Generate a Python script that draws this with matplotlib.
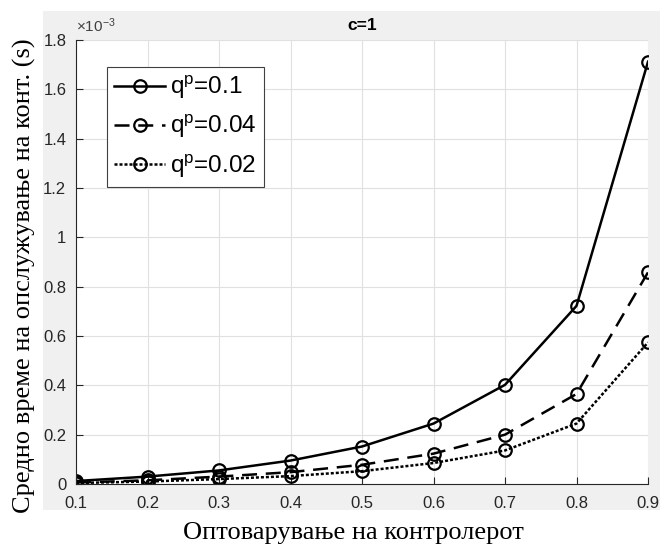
import matplotlib
matplotlib.use("Agg")
import matplotlib.pyplot as plt
from matplotlib.patches import Rectangle
from matplotlib.ticker import FuncFormatter

plt.rcParams["font.family"] = "Liberation Sans"
plt.rcParams["mathtext.fontset"] = "custom"
plt.rcParams["mathtext.rm"] = "Liberation Sans"
plt.rcParams["mathtext.it"] = "Liberation Sans:italic"

# load on the controller
load = [0.1, 0.2, 0.3, 0.4, 0.5, 0.6, 0.7, 0.8, 0.9]

# mean service time on the controller (s)
t_q010 = [0.012e-3, 0.030e-3, 0.055e-3, 0.095e-3, 0.152e-3, 0.245e-3, 0.402e-3, 0.722e-3, 1.712e-3]
t_q004 = [0.006e-3, 0.015e-3, 0.030e-3, 0.048e-3, 0.078e-3, 0.123e-3, 0.200e-3, 0.365e-3, 0.858e-3]
t_q002 = [0.004e-3, 0.010e-3, 0.020e-3, 0.032e-3, 0.052e-3, 0.085e-3, 0.136e-3, 0.245e-3, 0.574e-3]

series = [
    (t_q010, "-", "q$^{\\mathrm{p}}$=0.1"),
    (t_q004, (0, (6, 3.5)), "q$^{\\mathrm{p}}$=0.04"),
    (t_q002, (0, (1.2, 0.8)), "q$^{\\mathrm{p}}$=0.02"),
]

fig = plt.figure(figsize=(6.6, 5.45), dpi=100)
fig.patch.set_facecolor("white")
# grey panel behind the axes
fig.patches.append(Rectangle((43 / 660, 1 - 510 / 545), (660 - 43) / 660, (510 - 11) / 545,
                             transform=fig.transFigure, facecolor="#f0f0f0",
                             edgecolor="none", zorder=-10))

ax = fig.add_axes([76 / 660, 1 - 484 / 545, (648 - 76) / 660, (484 - 40) / 545])
ax.set_facecolor("white")

for vals, ls, lab in series:
    ax.plot(load, vals, linestyle=ls, color="black", linewidth=1.8,
            marker="o", markersize=9, markerfacecolor="none",
            markeredgewidth=1.6, markeredgecolor="black", label=lab)

ax.set_xlim(0.1, 0.9)
ax.set_ylim(0, 1.8e-3)
ax.set_xticks(load)
ax.set_yticks([i * 0.2e-3 for i in range(10)])
ax.xaxis.set_major_formatter(FuncFormatter(lambda v, p: f"{v:g}"))
ax.yaxis.set_major_formatter(FuncFormatter(lambda v, p: f"{round(v * 1e3, 3):g}"))
ax.text(0.0, 1.012, "$\\times10^{-3}$", transform=ax.transAxes, fontsize=11,
        color="#404040", ha="left", va="bottom")

ax.grid(True, color="#e0e0e0", linewidth=0.8)
ax.set_axisbelow(True)
for side in ["top", "right"]:
    ax.spines[side].set_visible(False)
for side in ["left", "bottom"]:
    ax.spines[side].set_color("#262626")
    ax.spines[side].set_linewidth(0.8)
ax.tick_params(direction="in", length=5, width=0.8, colors="#262626",
               labelsize=12)
ax.tick_params(axis="x", pad=9)
ax.tick_params(axis="y", pad=7)

ax.set_title("c=1", fontsize=12.5, fontweight="bold", pad=7)
ax.set_xlabel("Оптоварување на контролерот", family="Liberation Serif",
              fontsize=19, va="center")
ax.xaxis.set_label_coords(0.485, -0.11)
ax.set_ylabel("Средно време на опслужување на конт. (s)", family="Liberation Serif",
              fontsize=19, va="center", ha="center")
ax.yaxis.set_label_coords(-0.09, 0.47)

leg = ax.legend(loc="upper left", bbox_to_anchor=(0.054, 0.94), fontsize=17.5,
                fancybox=False, framealpha=1, edgecolor="#404040",
                handlelength=2.1, handletextpad=0.2, borderpad=0.3,
                labelspacing=0.5, borderaxespad=0)
leg.get_frame().set_linewidth(0.8)

fig.savefig("out.png", dpi=100)
